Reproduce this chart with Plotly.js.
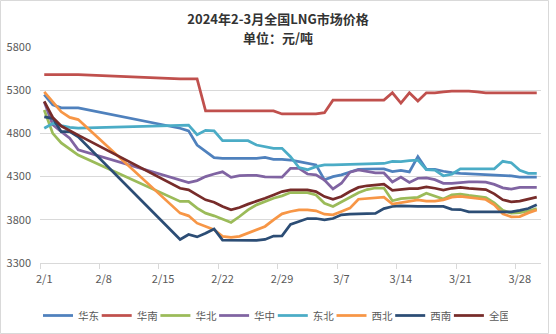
<!DOCTYPE html>
<html>
<head>
<meta charset="utf-8">
<script src="https://cdn.plot.ly/plotly-3.0.1.min.js"></script>
<style>
html,body{margin:0;padding:0;background:#fff;}
#chart{width:556px;height:334px;}
</style>
</head>
<body>
<div id="chart"></div>
<script>
// ---- data ----
const dates = ['2/1','2/2','2/3','2/4','2/5',
  '2/17','2/18','2/19','2/20','2/21','2/22','2/23','2/24','2/25','2/26','2/27','2/28','2/29',
  '3/1','3/2','3/3','3/4','3/5','3/6','3/7','3/8','3/9','3/10','3/11','3/12','3/13','3/14','3/15',
  '3/16','3/17','3/18','3/19','3/20','3/21','3/22','3/23','3/24','3/25','3/26','3/27','3/28','3/29','3/30'];

const seriesNames = ['华东','华南','华北','华中','东北','西北','西南','全国'];

const huadong = [5250,5130,5095,5095,5095,
  4860,4830,4666,4590,4520,4512,4512,4512,4512,4512,4523,4500,4500,
  4492,4473,4455,4435,4262,4300,4320,4355,4385,4388,4390,4390,4358,4373,4355,4531,4385,4385,4362,4345,
  4337,4333,4330,4328,4320,4313,4308,4293,4293,4293];
const huanan = [5480,5480,5480,5480,5480,
  5430,5430,5430,5060,5060,5060,5060,5060,5060,5060,5060,5060,5025,
  5025,5025,5025,5025,5040,5185,5185,5185,5185,5185,5185,5185,5270,5150,5270,5175,5270,5270,5280,5290,
  5290,5290,5280,5270,5270,5270,5270,5270,5270,5270];
const huabei = [5070,4800,4690,4625,4550,
  4012,4012,3935,3877,3846,3808,3769,3838,3915,3973,4012,4050,4077,
  4115,4115,4115,4088,3992,3954,4006,4063,4113,4150,4168,4168,4020,4046,4054,4060,4108,4073,4040,4088,
  4098,4082,4069,4056,3996,3910,3877,3882,3902,3929];
const huazhong = [5166,4900,4820,4745,4610,
  4254,4231,4254,4300,4330,4355,4292,4312,4315,4315,4296,4294,4294,
  4396,4396,4330,4320,4260,4158,4223,4350,4377,4362,4342,4342,4237,4295,4232,4281,4285,4265,4223,4223,
  4233,4240,4240,4235,4210,4170,4154,4175,4175,4175];
const dongbei = [4860,4915,4890,4870,4860,
  4890,4896,4785,4835,4830,4716,4716,4716,4716,4666,4642,4627,4627,
  4530,4405,4380,4415,4435,4435,4437,4440,4442,4442,4450,4452,4475,4473,4485,4490,4380,4375,4310,4328,
  4390,4390,4390,4390,4390,4477,4460,4373,4338,4338];
const xibei = [5280,5165,5050,4985,4960,
  3877,3846,3761,3723,3685,3608,3596,3608,3646,3677,3723,3800,3869,
  3896,3915,3915,3904,3865,3858,3896,3935,4038,4044,4050,4062,3983,3996,4012,4030,4017,4015,4031,4062,
  4070,4056,4046,4035,3973,3869,3835,3838,3880,3915];
const xinan = [4990,4975,4820,4820,4760,
  3572,3630,3602,3644,3694,3565,3565,3563,3560,3563,3573,3612,3615,
  3746,3780,3815,3815,3800,3815,3858,3865,3865,3867,3873,3929,3954,3960,3954,3954,3954,3954,3954,3921,
  3919,3892,3892,3892,3892,3892,3892,3910,3931,3973];
const quanguo = [5170,4985,4885,4830,4780,
  4165,4146,4088,4031,4004,3954,3915,3942,3981,4012,4050,4088,4127,
  4146,4146,4146,4127,4069,4038,4070,4127,4175,4194,4204,4213,4142,4154,4160,4160,4180,4165,4145,4165,
  4175,4165,4160,4150,4100,4031,4008,4017,4040,4062];

const yTicks = [3300,3800,4300,4800,5300,5800];
const titleLine1 = '2024年2-3月全国LNG市场价格';
const titleLine2 = '单位：元/吨';
// ---- end data ----

const colors = ['#4F81BD','#C0504D','#9BBB59','#8064A2','#4BACC6','#F79646','#2C4D75','#772C2A'];
const allSeries = [huadong,huanan,huabei,huazhong,dongbei,xibei,xinan,quanguo];

const xs = dates.map(s => {
  const p = s.split('/');
  return '2024-' + p[0].padStart(2,'0') + '-' + p[1].padStart(2,'0') + ' 12:00';
});

const font = '"Noto Sans CJK SC", "Noto Sans", sans-serif';

const traces = allSeries.map((ys, i) => ({
  type: 'scatter',
  mode: 'lines',
  name: seriesNames[i],
  x: xs,
  y: ys,
  line: {color: colors[i], width: 2.75},
  hoverinfo: 'skip'
}));

const L = 40, R = 541, T = 47, B = 263;
const W = 556, H = 334;
const px2x = px => (px - L) / (R - L);
const py2y = py => (B - py) / (B - T);

const layout = {
  width: W, height: H,
  margin: {l: L, r: W - R, t: T, b: H - B, pad: 0, autoexpand: false},
  paper_bgcolor: '#ffffff',
  plot_bgcolor: '#ffffff',
  font: {family: font, color: '#595959'},
  title: {
    text: '<b>' + titleLine1 + '</b>',
    font: {family: font, size: 13, color: '#333333'},
    x: 0.5, xref: 'container', xanchor: 'center',
    y: 1 - 19.5 / H, yref: 'container', yanchor: 'middle'
  },
  annotations: [{
    text: '<b>' + titleLine2 + '</b>',
    font: {family: font, size: 13, color: '#333333'},
    xref: 'paper', yref: 'paper',
    x: px2x(278), xanchor: 'center',
    y: py2y(37), yanchor: 'middle',
    showarrow: false
  }],
  showlegend: true,
  legend: {
    orientation: 'h',
    xref: 'container', yref: 'container',
    x: 38 / W, xanchor: 'left',
    y: 1 - 315.5 / H, yanchor: 'middle',
    font: {family: font, size: 10.5, color: '#595959'},
    entrywidth: 13.7,
    itemwidth: 30,
    bgcolor: 'rgba(0,0,0,0)'
  },
  xaxis: {
    type: 'date',
    range: ['2024-02-01', '2024-03-31'],
    tick0: '2024-02-01 12:00',
    dtick: 7 * 86400000,
    tickformat: '%-m/%-d',
    ticks: '',
    ticklabelstandoff: 6,
    showgrid: false,
    zeroline: false,
    showline: true,
    linecolor: '#D9D9D9',
    linewidth: 1,
    tickfont: {family: font, size: 11, color: '#595959'},
    minor: {tick0: '2024-02-01', dtick: 7 * 86400000, ticks: 'outside', ticklen: 5, tickcolor: '#D9D9D9', tickwidth: 1, showgrid: false},
    fixedrange: true
  },
  yaxis: {
    range: [3300, 5800],
    tickvals: yTicks,
    ticktext: yTicks.map(String),
    showgrid: true,
    gridcolor: '#D9D9D9',
    gridwidth: 1,
    zeroline: false,
    showline: false,
    ticks: '',
    ticklabelstandoff: 8,
    tickfont: {family: font, size: 11, color: '#595959'},
    fixedrange: true
  },
  shapes: [{
    type: 'rect', xref: 'paper', yref: 'paper', layer: 'above',
    x0: px2x(0.5), x1: px2x(548.5), y0: py2y(333.5), y1: py2y(0.5),
    line: {color: '#D9D9D9', width: 1}, fillcolor: 'rgba(0,0,0,0)'
  }]
};

Plotly.newPlot('chart', traces, layout, {displayModeBar: false, staticPlot: true});
</script>
</body>
</html>
